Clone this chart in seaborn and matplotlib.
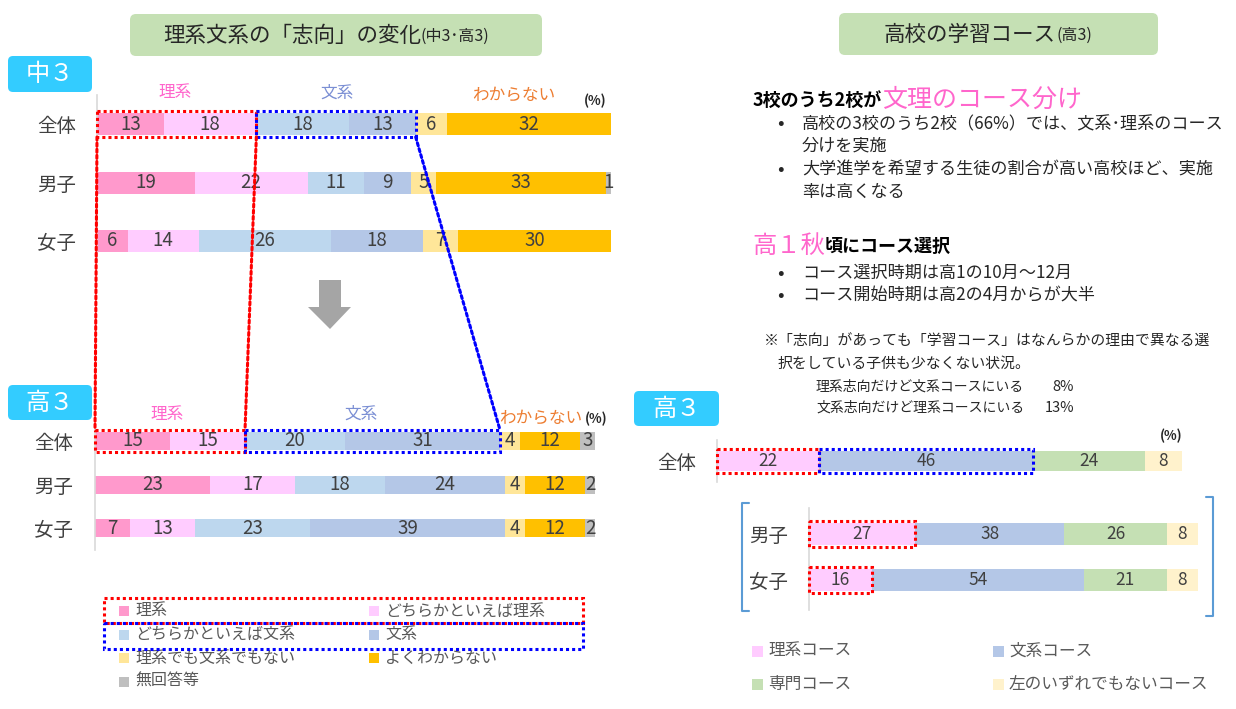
import matplotlib
matplotlib.use('Agg')
import matplotlib.pyplot as plt
import seaborn as sns
import numpy as np
import pandas as pd
from matplotlib.patches import Rectangle, FancyBboxPatch, Polygon, ConnectionPatch

sns.set_theme(style='white')
plt.rcParams['font.family'] = ['Noto Sans CJK JP', 'DejaVu Sans']

# ---------------- data ----------------
groups = ['全体', '男子', '女子']
shiko_labels = ['理系', 'どちらかといえば理系', 'どちらかといえば文系', '文系',
                '理系でも文系でもない', 'よくわからない', '無回答等']
shiko_colors = ['#ff99cc', '#ffccff', '#bdd7ee', '#b4c7e7', '#ffe699', '#ffc000', '#bfbfbf']

# 中3 (全体, 男子, 女子)
chu3_rikei = [13, 19, 6]
chu3_dochira_ri = [18, 22, 14]
chu3_dochira_bun = [18, 11, 26]
chu3_bunkei = [13, 9, 18]
chu3_neither = [6, 5, 7]
chu3_unknown = [32, 33, 30]
chu3_noans = [0, 1, 0]

# 高3 (全体, 男子, 女子)
ko3_rikei = [15, 23, 7]
ko3_dochira_ri = [15, 17, 13]
ko3_dochira_bun = [20, 18, 23]
ko3_bunkei = [31, 24, 39]
ko3_neither = [4, 4, 4]
ko3_unknown = [12, 12, 12]
ko3_noans = [3, 2, 2]

course_labels = ['理系コース', '文系コース', '専門コース', '左のいずれでもないコース']
course_colors = ['#ffccff', '#b4c7e7', '#c5e0b4', '#fff2cc']
course_all = [22, 46, 24, 8]          # 全体
course_boys = [27, 38, 26, 8]         # 男子
course_girls = [16, 54, 21, 8]        # 女子

# ---------------- figure ----------------
W, H = 1236, 709
fig = plt.figure(figsize=(W / 100, H / 100), dpi=100)
fig.patch.set_facecolor('white')

ov = fig.add_axes([0, 0, 1, 1], zorder=0)
ov.set_xlim(0, W)
ov.set_ylim(H, 0)
ov.axis('off')

TXT = '#404040'
DARK = '#262626'


def rbox(x0, y0, x1, y1, color, r=6):
    ov.add_patch(FancyBboxPatch((x0 + r, y0 + r), x1 - x0 - 2 * r, y1 - y0 - 2 * r,
                                boxstyle=f'round,pad={r},rounding_size={r}',
                                fc=color, ec='none', zorder=1))


def chart_axes(px0, px100, ytop, ybot, row0, sp, xmax=100):
    ax = fig.add_axes([px0 / W, 1 - ybot / H, (px100 - px0) / W, (ybot - ytop) / H], zorder=2)
    ax.patch.set_alpha(0)
    ax._geom = (ytop, ybot, row0, sp, xmax)
    return ax


def finish_axes(ax, pad_px, labelsize):
    ytop, ybot, row0, sp, xmax = ax._geom
    ax.set_xlim(0, xmax)
    ax.set_ylim((ybot - row0) / sp, (ytop - row0) / sp)
    for s in ['top', 'right', 'bottom']:
        ax.spines[s].set_visible(False)
    ax.spines['left'].set_color('#d9d9d9')
    ax.spines['left'].set_linewidth(1.2)
    ax.set_xticks([])
    ax.set_xlabel('')
    ax.set_ylabel('')
    ax.tick_params(axis='y', length=0, pad=pad_px * 0.72, labelsize=labelsize, labelcolor=TXT)


def stacked(ax, cats, series, colors, bar_px, normalize, fs):
    ytop, ybot, row0, sp, xmax = ax._geom
    raw = np.array(series, dtype=float).T
    vals = raw / raw.sum(axis=1, keepdims=True) * 100 if normalize else raw.copy()
    cum = np.cumsum(vals, axis=1)
    for k in range(vals.shape[1] - 1, -1, -1):
        df = pd.DataFrame({'cat': cats, 'v': cum[:, k]})
        sns.barplot(data=df, x='v', y='cat', orient='h', order=cats, color=colors[k],
                    saturation=1, width=bar_px / sp, linewidth=0, errorbar=None, ax=ax)
    for i in range(len(cats)):
        for k in range(vals.shape[1]):
            if raw[i, k] > 0:
                ax.text(cum[i, k] - vals[i, k] / 2, i, f'{raw[i, k]:g}', ha='center',
                        va='center', fontsize=fs, color=TXT, zorder=4)
    return cum


def dbox(ax, x0, x1, row, bar_px, color):
    ytop, ybot, row0, sp, xmax = ax._geom
    h = (bar_px + 4) / sp
    ax.add_patch(Rectangle((x0, row - h / 2), x1 - x0, h, fill=False, ec=color, lw=2.2,
                           ls=(0, (1, 1)), clip_on=False, zorder=6))


RED, BLUE = '#ff0000', '#0000ff'

# ---------------- left: 中3 ----------------
ax1 = chart_axes(97, 611, 95, 262, 124, 58.5)
cum1 = stacked(ax1, groups, [chu3_rikei, chu3_dochira_ri, chu3_dochira_bun, chu3_bunkei,
                             chu3_neither, chu3_unknown, chu3_noans], shiko_colors, 22, True, 13.5)
finish_axes(ax1, 21, 14)
dbox(ax1, 0, cum1[0, 1], 0, 22, RED)
dbox(ax1, cum1[0, 1], cum1[0, 3], 0, 22, BLUE)

# ---------------- left: 高3 ----------------
ax2 = chart_axes(95, 595, 425, 550, 441, 43.7)
cum2 = stacked(ax2, groups, [ko3_rikei, ko3_dochira_ri, ko3_dochira_bun, ko3_bunkei,
                             ko3_neither, ko3_unknown, ko3_noans], shiko_colors, 18, True, 13.5)
finish_axes(ax2, 22, 14)
dbox(ax2, 0, cum2[0, 1], 0, 18, RED)
dbox(ax2, cum2[0, 1], cum2[0, 3], 0, 18, BLUE)

# connecting dotted lines
hA = (22 + 4) / 2 / 58.5
hB = (18 + 4) / 2 / 43.7
for xt, xb, col in [(0, 0, RED), (cum1[0, 1], cum2[0, 1], RED), (cum1[0, 3], cum2[0, 3], BLUE)]:
    con = ConnectionPatch(xyA=(float(xt), hA), coordsA=ax1.transData,
                          xyB=(float(xb), -hB), coordsB=ax2.transData,
                          color=col, lw=2.2, ls=(0, (1, 1)), zorder=6)
    fig.add_artist(con)

# ---------------- right: 高3 courses ----------------
ax3 = chart_axes(717, 1182, 440, 482, 461, 46)
cum3 = stacked(ax3, ['全体'], [[v] for v in course_all], course_colors, 20, False, 12.5)
finish_axes(ax3, 21, 14)
dbox(ax3, 0, cum3[0, 0], 0, 20, RED)
dbox(ax3, cum3[0, 0], cum3[0, 1], 0, 20, BLUE)

ax4 = chart_axes(809, 1202, 508, 610, 534, 46)
cum4 = stacked(ax4, ['男子', '女子'], [[b, g] for b, g in zip(course_boys, course_girls)],
               course_colors, 22, False, 12.5)
finish_axes(ax4, 21, 14)
dbox(ax4, 0, cum4[0, 0], 0, 22, RED)
dbox(ax4, 0, cum4[1, 0], 1, 22, RED)

# ---------------- decorations ----------------
rbox(130, 14, 542, 56, '#c5e0b4')
rbox(839, 13, 1158, 55, '#c5e0b4')
for (x0, y0, x1, y1, s) in [(8, 56, 92, 92, '中３'), (8, 385, 92, 420, '高３'), (634, 391, 719, 426, '高３')]:
    rbox(x0, y0, x1, y1, '#33ccff', r=5)
    ov.text((x0 + x1) / 2, (y0 + y1) / 2, s, ha='center', va='center', fontsize=17.5,
            color='white', zorder=3)

ov.add_patch(Polygon([(319, 280), (341, 280), (341, 307), (351, 307), (330, 329), (308, 307), (319, 307)],
                     closed=True, fc='#a5a5a5', ec='none', zorder=1))

renderer = fig.canvas.get_renderer()


def chain(x, y, parts):
    for s, kw in parts:
        t = ov.text(x, y, s, ha='left', va='center', zorder=3, **kw)
        bb = t.get_window_extent(renderer=renderer)
        x += bb.width * (W / fig.bbox.width)
    return x


chain(163, 36, [('理系文系の「志向」の変化', dict(fontsize=15.5, color=DARK)),
                ('(中3･高3)', dict(fontsize=11.5, color=DARK))])
chain(884, 35, [('高校の学習コース', dict(fontsize=15.5, color=DARK)),
                ('(高3)', dict(fontsize=11.5, color=DARK))])

PINK_T, BLUE_T, ORANGE_T = '#ff66cc', '#7b8fd4', '#ed7d31'
for x, y, s, c in [(175, 93, '理系', PINK_T), (337, 93, '文系', BLUE_T), (514, 95, 'わからない', ORANGE_T),
                   (167, 414, '理系', PINK_T), (361, 414, '文系', BLUE_T), (541, 418, 'わからない', ORANGE_T)]:
    ov.text(x, y, s, ha='center', va='center', fontsize=12, color=c, zorder=3)
for x, y in [(595, 101), (596, 419), (1171, 436)]:
    ov.text(x, y, '(%)', ha='center', va='center', fontsize=9.5, color=DARK, weight='bold', zorder=3)

chain(753, 100, [('3校のうち2校が', dict(fontsize=13, color='black', weight='bold')),
                 ('文理のコース分け', dict(fontsize=18, color=PINK_T))])
bul = [(124, '高校の3校のうち2校（66%）では、文系･理系のコース', True),
       (146, '分けを実施', False),
       (170, '大学進学を希望する生徒の割合が高い高校ほど、実施', True),
       (192, '率は高くなる', False),
       (273, 'コース選択時期は高1の10月～12月', True),
       (296, 'コース開始時期は高2の4月からが大半', True)]
for y, s, dot in bul:
    if dot:
        ov.text(780, y, '•', ha='center', va='center', fontsize=14, color=DARK, zorder=3)
    ov.text(802, y, s, ha='left', va='center', fontsize=12.3, color=DARK, zorder=3)
chain(752, 246, [('高１秋', dict(fontsize=17.5, color=PINK_T)),
                 ('頃にコース選択', dict(fontsize=13, color='black', weight='bold'))])
ov.text(764, 342, '※「志向」があっても「学習コース」はなんらかの理由で異なる選', ha='left', va='center',
        fontsize=10.7, color=DARK, zorder=3)
ov.text(778, 364, '択をしている子供も少なくない状況。', ha='left', va='center',
        fontsize=10.7, color=DARK, zorder=3)
ov.text(816, 387, '理系志向だけど文系コースにいる', ha='left', va='center', fontsize=10, color=DARK, zorder=3)
ov.text(1074, 387, '8%', ha='right', va='center', fontsize=10.5, color=DARK, zorder=3)
ov.text(816, 408, '文系志向だけど理系コースにいる', ha='left', va='center', fontsize=10, color=DARK, zorder=3)
ov.text(1074, 408, '13%', ha='right', va='center', fontsize=10.5, color=DARK, zorder=3)

BR = '#5b9bd5'
ov.plot([749, 742, 742, 749], [503, 503, 611, 611], color=BR, lw=1.5, zorder=1)
ov.plot([1206, 1213, 1213, 1206], [497, 497, 616, 616], color=BR, lw=1.5, zorder=1)

for k, (lab, col) in enumerate(zip(shiko_labels, shiko_colors)):
    r, c = divmod(k, 2)
    x = 119 if c == 0 else 369
    y = 611 + r * 23.5
    ov.add_patch(Rectangle((x, y - 5), 10, 10, fc=col, ec='none', zorder=2))
    ov.text(x + 16, y, lab, ha='left', va='center', fontsize=11.5, color='#595959', zorder=3)
ov.add_patch(Rectangle((104, 598), 479, 25, fill=False, ec=RED, lw=2.2, ls=(0, (1, 1)), zorder=4))
ov.add_patch(Rectangle((104, 623), 479, 26, fill=False, ec=BLUE, lw=2.2, ls=(0, (1, 1)), zorder=4))

for k, (lab, col) in enumerate(zip(course_labels, course_colors)):
    r, c = divmod(k, 2)
    x = 752 if c == 0 else 993
    y = 651 + r * 33
    ov.add_patch(Rectangle((x, y - 5.5), 11, 11, fc=col, ec='none', zorder=2))
    ov.text(x + 16, y, lab, ha='left', va='center', fontsize=12, color='#595959', zorder=3)

fig.savefig('out.png', dpi=100, facecolor='white')
